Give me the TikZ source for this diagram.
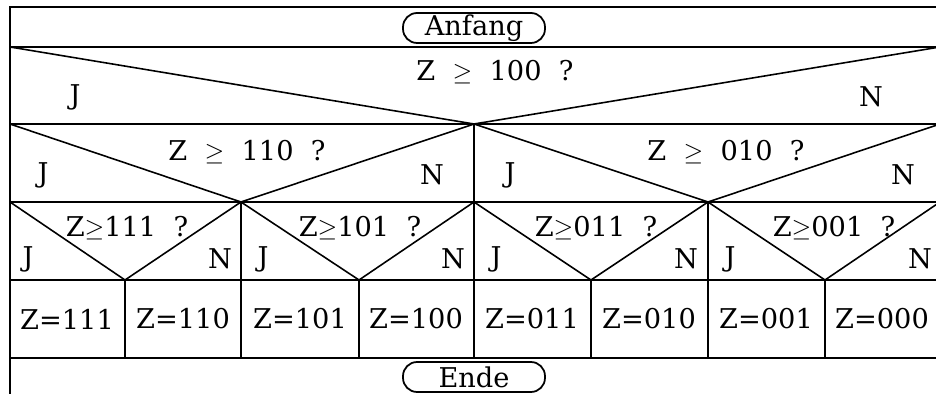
\documentclass[tikz,border=0pt]{standalone}
\usepackage{fontspec}
\setmainfont{DejaVu Serif}
\usetikzlibrary{positioning}
\tikzset{
  lbl/.style={font=\fontsize{15.5}{18}\selectfont, inner sep=0pt},
  term/.style={draw, line width=1pt, rounded corners=8pt, minimum width=2.84cm, minimum height=0.6cm, inner sep=0pt, font=\fontsize{15.5}{18}\selectfont},
  frame/.style={line width=1.1pt},
  diag/.style={line width=0.9pt}
}
\begin{document}
\begin{tikzpicture}[x=0.02cm, y=-0.02cm]
  \useasboundingbox (0,0) rectangle (936,394);
  \clip (0,0) rectangle (936,394);
  % frame and rows
  \draw[frame] (10,394) -- (10,7) -- (940,7) -- (940,358);
  \foreach \y in {47,124,202,280,358}
    \draw[frame] (10,\y) -- (940,\y);
  \draw[frame] (474,124) -- (474,358);
  \foreach \x in {241,708}
    \draw[frame] (\x,202) -- (\x,358);
  \foreach \x in {125,359,591,825}
    \draw[frame] (\x,280) -- (\x,358);
  % decision triangles
  \draw[diag] (10,47) -- (474,124) -- (940,47);
  \foreach \a/\b/\c in {10/241/474, 474/708/940}
    \draw[diag] (\a,124) -- (\b,202) -- (\c,124);
  \foreach \a/\b/\c in {10/125/241, 241/359/474, 474/591/708, 708/825/940}
    \draw[diag] (\a,202) -- (\b,280) -- (\c,202);
  % start and end
  \node[term] (anfang) at (474,28) {Anfang};
  \node[term] (ende) at (474,377) {Ende};
  % questions
  \node[lbl] (q100) at (495,72) {Z\ \ $\geq$\ \ 100\ \ ?};
  \node[lbl] (q110) at (247,152) {Z\ \ $\geq$\ \ 110\ \ ?};
  \node[lbl] (q010) at (726,152) {Z\ \ $\geq$\ \ 010\ \ ?};
  \foreach \x/\v in {127/111, 360/101, 596/011, 834/001}
    \node[lbl] (q\v) at (\x,228) {Z$\geq$\v\ \ ?};
  % yes / no
  \node[lbl] (j100) at (75,97) {J};
  \node[lbl] (n100) at (871,97) {N};
  \foreach \j/\n/\v in {43/432/110, 510/903/010}{
    \node[lbl] (j\v) at (\j,175) {J};
    \node[lbl] (n\v) at (\n,175) {N};
  }
  \foreach \j/\n/\v in {28/220/111, 263/453/101, 496/686/011, 730/920/001}{
    \node[lbl] (j\v) at (\j,259) {J};
    \node[lbl] (n\v) at (\n,259) {N};
  }
  % results
  \foreach \x/\v in {67/111, 183/110, 300/101, 416/100, 532/011, 649/010, 766/001, 882/000}
    \node[lbl] (z\v) at (\x,319) {Z=\v};
\end{tikzpicture}
\end{document}
